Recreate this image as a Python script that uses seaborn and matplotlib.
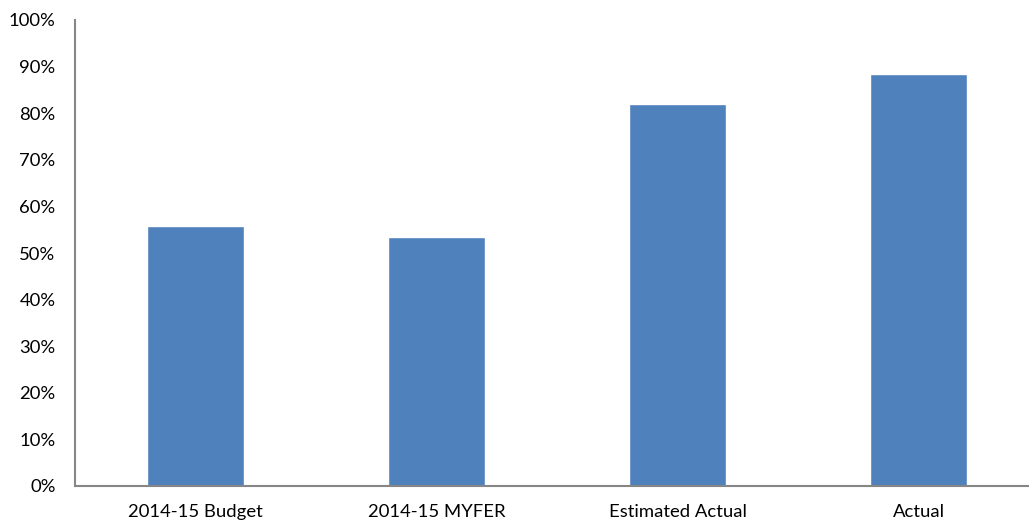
import matplotlib
matplotlib.use("Agg")
import matplotlib.pyplot as plt
import pandas as pd
import seaborn as sns
from matplotlib.ticker import PercentFormatter

categories: list[str] = ["2014-15 Budget", "2014-15 MYFER", "Estimated Actual", "Actual"]
values: list[float] = [55.8, 53.4, 82.0, 88.4]

sns.set_style("white")
plt.rcParams["font.family"] = ["Lato", "DejaVu Sans"]

df = pd.DataFrame({"category": categories, "value": values})

fig = plt.figure(figsize=(10.29, 5.23), dpi=100)
ax = fig.add_axes([75 / 1029, 37 / 523, 1 - 75 / 1029, 466 / 523])
sns.barplot(data=df, x="category", y="value", color="#4F81BD", saturation=1,
            width=0.4, ax=ax)

ax.set_ylim(0, 100)
ax.set_yticks(range(0, 101, 10))
ax.yaxis.set_major_formatter(PercentFormatter(decimals=0))
ax.set_xlim(-0.5, -0.5 + (1029 - 75) / 241)
ax.set_xlabel(None)
ax.set_ylabel(None)
ax.tick_params(axis="both", length=0, labelsize=13.3, colors="#000000")
ax.tick_params(axis="y", pad=14)
ax.tick_params(axis="x", pad=13)
for side in ["top", "right"]:
    ax.spines[side].set_visible(False)
for side in ["left", "bottom"]:
    ax.spines[side].set_color("#868686")
    ax.spines[side].set_linewidth(1.5)

fig.savefig("out.png", dpi=100)
